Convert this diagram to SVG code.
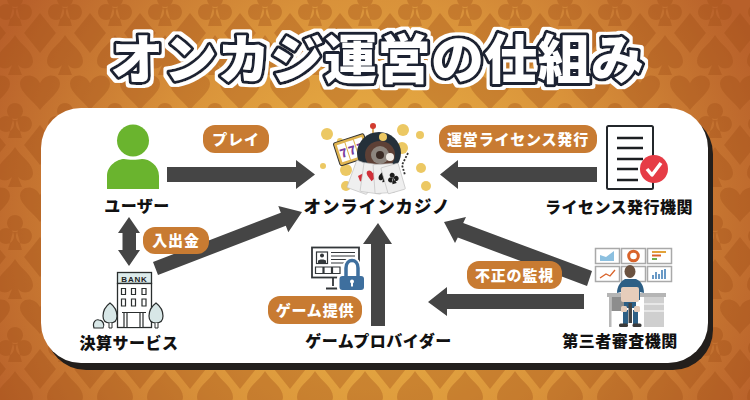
<svg xmlns="http://www.w3.org/2000/svg" xmlns:xlink="http://www.w3.org/1999/xlink" width="750" height="400" viewBox="0 0 750 400">
<style>
text{font-family:"Noto Sans CJK JP","Liberation Sans",sans-serif}
.title{font-size:53px;font-weight:900;fill:#fff;stroke:#1e2330;stroke-width:6px;stroke-linejoin:round;paint-order:stroke;text-anchor:middle;letter-spacing:.4px}
.name{font-size:16px;font-weight:900;fill:#111;text-anchor:middle;letter-spacing:.5px}
.big{font-size:17.5px;letter-spacing:.9px}
.pill{fill:#c87b32}
.ptext{font-size:15px;font-weight:900;fill:#fff;text-anchor:middle;letter-spacing:.8px}
.arrow{fill:#454545}
.coin{fill:#ecc863}
.panel{fill:#fff;stroke:#a9a9a9;stroke-width:1.5}
.card{fill:#efefef;stroke:#bbb;stroke-width:.6}
.red{fill:#d0303a}
.blk{fill:#1c1c1c}
</style>
<defs>
<radialGradient id="bg" gradientUnits="userSpaceOnUse" cx="375" cy="230" r="420">
<stop offset="0" stop-color="#efbc48"/><stop offset=".55" stop-color="#d9923a"/><stop offset="1" stop-color="#b8602a"/>
</radialGradient>
<path id="spade" d="M0-20C6-10 18-4 18 6 18 14 8 16 3 10L7 20H-7L-3 10C-8 16-18 14-18 6-18-4-6-10 0-20Z"/>
<path id="heart" d="M0 18C-8 8-20 0-20-8-20-18-6-20 0-9 6-20 20-18 20-8 20 0 8 8 0 18Z"/>
<path id="diamond" d="M0-20L16 0 0 20-16 0Z"/>
<path id="club" d="M-2 0L-7 18H7L2 0ZM0-17a8 8 0 1 1-.01 0ZM-9-4a8 8 0 1 1-.01 0ZM9-4a8 8 0 1 1-.01 0Z"/>
<pattern id="suits" patternUnits="userSpaceOnUse" x="-10" y="0" width="50" height="112">
<g fill="#a04c14" fill-opacity=".34">
<use href="#club" x="25" y="8"/><use href="#club" x="25" y="120"/>
<use href="#diamond" x="0" y="33"/><use href="#diamond" x="50" y="33"/>
<use href="#spade" x="25" y="55"/>
<use href="#heart" x="0" y="92"/><use href="#heart" x="50" y="92"/>
</g>
</pattern>
<filter id="halo" x="-5%" y="-20%" width="110%" height="140%">
<feMorphology in="SourceAlpha" operator="dilate" radius="2.6" result="d"/>
<feFlood flood-color="#fff"/><feComposite in2="d" operator="in" result="w"/>
<feMerge><feMergeNode in="w"/><feMergeNode in="SourceGraphic"/></feMerge>
</filter>
</defs>

<rect width="750" height="400" fill="url(#bg)"/>
<rect width="750" height="400" fill="url(#suits)"/>
<rect x="46" y="114" width="667" height="256" rx="40" fill="#231f1c"/>
<rect x="41" y="108" width="667" height="255" rx="40" fill="#fff"/>

<text id="title" class="title" x="377.500" y="79" filter="url(#halo)">オンカジ運営の仕組み</text>

<g id="connectors">
<polygon class="arrow" points="167,167 296,167 296,160 315,174.500 296,189 296,182 167,182"/>
<polygon class="arrow" points="597,167 458,167 458,160 440,174.500 458,189 458,182 597,182"/>
<polygon class="arrow" points="129,217 140,233 136,233 136,250 140,250 129,266 118,250 122.500,250 122.500,233 118,233"/>
<polygon class="arrow" points="153,262 280.800,212.700 278.300,206.100 302,212 288.300,232.300 285.800,225.700 158,275"/>
<polygon class="arrow" points="385,326 385,244 392,244 378,223 363,244 371,244 371,326"/>
<polygon class="arrow" points="592,271 463.200,223 466,217 444,222 455,243 457.800,237.500 587,286"/>
<polygon class="arrow" points="584,294 447,294 447,287 428,302 447,316 447,309 584,309"/>
</g>

<g id="labels">
<g id="label-play"><rect class="pill" x="203" y="125" width="66" height="28" rx="12"/><text class="ptext" x="236" y="144.500">プレイ</text></g>
<g id="label-license"><rect class="pill" x="439" y="125" width="158" height="28" rx="12"/><text class="ptext" x="518" y="144.500">運営ライセンス発行</text></g>
<g id="label-money"><rect class="pill" x="143" y="227" width="66" height="27" rx="12"/><text class="ptext" x="176" y="246">入出金</text></g>
<g id="label-game"><rect class="pill" x="268" y="296" width="94" height="28" rx="12"/><text class="ptext" x="315" y="315.500">ゲーム提供</text></g>
<g id="label-audit"><rect class="pill" x="467" y="261" width="95" height="28" rx="12"/><text class="ptext" x="514.500" y="280.500">不正の監視</text></g>
</g>

<g id="node-user">
<circle cx="133" cy="140.500" r="16" fill="#6ab42e"/>
<path d="M107 189V176C107 165 118 159 124 159C128 160 138 160 142 159C149 159 159 165 159 176V189Z" fill="#6ab42e"/>
<text class="name" x="137" y="212">ユーザー</text>
</g>

<g id="node-casino">
<circle class="coin" cx="327" cy="134" r="6"/><circle class="coin" cx="403" cy="130" r="6"/><circle class="coin" cx="420" cy="135" r="4"/><circle class="coin" cx="323" cy="166" r="3"/><circle class="coin" cx="346" cy="170" r="6"/><circle class="coin" cx="346" cy="186" r="5"/><circle class="coin" cx="421" cy="168" r="5"/><circle class="coin" cx="426" cy="186" r="5"/><circle class="coin" cx="402" cy="148" r="6"/><circle class="coin" cx="340" cy="141" r="3"/>
<g transform="rotate(-18 351 150)">
<rect x="336" y="138" width="32" height="24" rx="2" fill="#e0b450" stroke="#333" stroke-width="1"/>
<rect x="339" y="141" width="8" height="18" fill="#fff"/><rect x="348" y="141" width="8" height="18" fill="#fff"/><rect x="357" y="141" width="8" height="18" fill="#fff"/>
<text x="343" y="155" font-size="12" font-weight="900" fill="#7b3fa0" text-anchor="middle">7</text>
<text x="352" y="155" font-size="12" font-weight="900" fill="#7b3fa0" text-anchor="middle">7</text>
<text x="361" y="155" font-size="12" font-weight="900" fill="#7b3fa0" text-anchor="middle">7</text>
</g>
<path d="M373 126V137" stroke="#c9963a" stroke-width="1.500"/><circle cx="373" cy="126" r="3" fill="#d23c30"/>
<ellipse cx="379" cy="153" rx="22" ry="21" fill="#24303a"/>
<ellipse cx="380" cy="155" rx="15" ry="14" fill="#5d4036"/>
<circle cx="380" cy="155" r="9" fill="#8d857e"/><circle cx="380" cy="155" r="4" fill="#3a2a24"/>
<circle class="coin" cx="383" cy="137" r="4"/>
<circle cx="390" cy="157" r="4" fill="#f1ece6"/>
<path d="M408 153L402 165 405 175" stroke="#333" stroke-width="1.800" stroke-dasharray="2 1.500" fill="none"/>
<g transform="rotate(20 362 178)"><rect class="card" x="351" y="163" width="21" height="29" rx="1"/><path class="red" d="M361.500 173l4 4.500-4 4.500-4-4.500z"/></g>
<g transform="rotate(8 373 178)"><rect class="card" x="362" y="164" width="21" height="29" rx="1"/><use href="#heart" transform="translate(372 176) scale(.3)" class="red"/></g>
<g transform="rotate(-4 384 178)"><rect class="card" x="374" y="164" width="20" height="29" rx="1"/><use href="#spade" transform="translate(384 176) scale(.3)" class="blk"/></g>
<g transform="rotate(-16 393 178)"><rect class="card" x="384" y="165" width="18" height="27" rx="1"/><use href="#club" transform="translate(393 178) scale(.32)" class="blk"/></g>
<text class="name big" x="377" y="213">オンラインカジノ</text>
</g>

<g id="node-license">
<rect x="607" y="126" width="46" height="63" rx="1.500" fill="#fff" stroke="#23272b" stroke-width="2"/>
<path d="M617 138H643M617 148H643M617 159H643M617 169H638M617 180H638" stroke="#1c1f22" stroke-width="2.600"/>
<circle cx="654" cy="169" r="14" fill="#e63c46"/>
<path d="M647 169L652 175 661 163" stroke="#fff" stroke-width="3.500" fill="none" stroke-linejoin="round"/>
<text class="name" x="619" y="212.500">ライセンス発行機関</text>
</g>

<g id="node-settlement">
<rect x="117.500" y="272.500" width="34" height="11" fill="#dcebeb" stroke="#2a2e2e" stroke-width="1.300"/>
<text x="134.500" y="281.500" font-size="8" font-weight="700" fill="#222" text-anchor="middle" letter-spacing=".8" style="font-family:'Liberation Sans',sans-serif">BANK</text>
<rect x="117.500" y="283.500" width="34" height="44" fill="#fff" stroke="#2a2e2e" stroke-width="1.300"/>
<path d="M121.500 288.500h4v6h-4zM131.500 288.500h4v6h-4zM142 288.500h4v6h-4zM121.500 299h4v7h-4zM131.500 299h4v7h-4zM142 299h4v7h-4z" fill="none" stroke="#2a2e2e" stroke-width="1.200"/>
<path d="M122 312.500H146M124 312.500V327.500H143V312.500M127 312.500V327.500M140 312.500V327.500" fill="#fff" stroke="#2a2e2e" stroke-width="1.200"/>
<path d="M110 303C114 306 117 311 117 316C117 321 114 323 110 323C106 323 103 321 103 316C103 311 106 306 110 303Z" fill="#d8e7e7" stroke="#2a2e2e" stroke-width="1.200"/>
<path d="M109 323V328H112V323" fill="#fff" stroke="#2a2e2e" stroke-width="1"/>
<path d="M156 303C160 306 163 311 163 316C163 321 160 323 156 323C152 323 149 321 149 316C149 311 152 306 156 303Z" fill="#d8e7e7" stroke="#2a2e2e" stroke-width="1.200"/>
<path d="M155 323V328H158V323" fill="#fff" stroke="#2a2e2e" stroke-width="1"/>
<path d="M94 328C92 322 96 319 99 320C103 320 105 325 103 328Z" fill="#d8e7e7" stroke="#2a2e2e" stroke-width="1.200"/>
<text class="name" x="129" y="349">決算サービス</text>
</g>

<g id="node-provider">
<rect x="312" y="247.500" width="47" height="30" fill="#fff" stroke="#33373a" stroke-width="1.800"/>
<rect x="316.500" y="252" width="11" height="11.500" fill="#fff" stroke="#33373a" stroke-width="1.200"/>
<circle cx="322" cy="255.500" r="2" fill="#33373a"/><path d="M318 263V261C318 259 326 259 326 261V263Z" fill="#33373a"/>
<path d="M331 252.500H355M331 256H355M331 259.500H350M331 263H345" stroke="#33373a" stroke-width="1.200"/>
<path d="M315.500 267h7.500v6.500h-7.500zM324 267h7.500v6.500h-7.500zM332.500 267h7.500v6.500h-7.500z" fill="none" stroke="#33373a" stroke-width="1.200"/>
<path d="M333 278V286M326 288.500H338" stroke="#33373a" stroke-width="1.800"/>
<path d="M346 278V268C346 258 358 258 358 268V278" fill="none" stroke="#fff" stroke-width="7"/>
<rect x="337" y="274" width="29" height="18" rx="4" fill="#fff"/>
<path d="M346 278V268C346 258 358 258 358 268V278" fill="none" stroke="#3e6f9e" stroke-width="3.500"/>
<rect x="339.500" y="276" width="24.500" height="14" rx="3" fill="#3e6f9e"/>
<circle cx="352" cy="281.500" r="2" fill="#fff"/><rect x="351" y="282" width="2" height="4.500" fill="#fff"/>
<text class="name" x="378.500" y="346.500">ゲームプロバイダー</text>
</g>

<g id="node-auditor">
<rect class="panel" x="595.500" y="248.500" width="24" height="15"/>
<rect class="panel" x="621.500" y="248.500" width="24" height="15"/>
<rect class="panel" x="647.500" y="248.500" width="24" height="15"/>
<rect class="panel" x="595.500" y="266.500" width="24" height="15"/>
<rect class="panel" x="621.500" y="266.500" width="24" height="15"/>
<rect class="panel" x="647.500" y="266.500" width="24" height="15"/>
<path d="M600 261V255L606 257 614 251V261Z" fill="#8cc0e0"/>
<circle cx="633.500" cy="256" r="4.800" fill="none" stroke="#d9632a" stroke-width="3"/>
<path d="M652 252h14" stroke="#e2a23a" stroke-width="2"/><path d="M652 255.500h9" stroke="#d9632a" stroke-width="2"/><path d="M652 259h5" stroke="#6fae4a" stroke-width="2"/>
<path d="M600 278L606 274 610 276 615 270" stroke="#d9632a" stroke-width="1.300" fill="none"/>
<path d="M653 279V275M656 279V272M659 279V274M662 279V270M665 279V269" stroke="#5a8fc0" stroke-width="1.800"/>
<rect x="607" y="293" width="59" height="4" fill="#b5b5b5"/>
<rect x="609" y="297" width="2.500" height="30" fill="#b8b8b8"/>
<rect x="611.500" y="297" width="14" height="14" fill="#8d8d8d"/>
<rect x="644" y="297" width="20" height="30" fill="#cfcfcf"/>
<path d="M644 304H664M644 311H664" stroke="#fff" stroke-width="1"/>
<ellipse cx="630" cy="271.500" rx="5.500" ry="6.500" fill="#6b5240"/>
<path d="M617 293C617 286 621 281 625 279H636C641 281 644 286 644 293L640 292V300H621V292Z" fill="#2d5f85"/>
<rect x="621" y="287" width="18" height="15" rx="2" fill="#e6cdbb"/>
<rect x="624" y="302" width="12" height="6" fill="#2d5f85"/>
<rect x="623" y="310" width="5" height="14" fill="#2d5f85"/><rect x="633" y="310" width="5" height="14" fill="#2d5f85"/>
<rect x="628.500" y="303" width="3.500" height="20" fill="#444"/>
<rect x="621" y="306" width="6" height="6" rx="1.500" fill="#e6cdbb"/><rect x="634" y="306" width="6" height="6" rx="1.500" fill="#e6cdbb"/>
<rect x="619" y="323.500" width="9" height="3.500" rx="1.500" fill="#3a3a3a"/><rect x="632.500" y="323.500" width="9" height="3.500" rx="1.500" fill="#3a3a3a"/>
<text class="name" x="620" y="346.500">第三者審査機関</text>
</g>
</svg>
